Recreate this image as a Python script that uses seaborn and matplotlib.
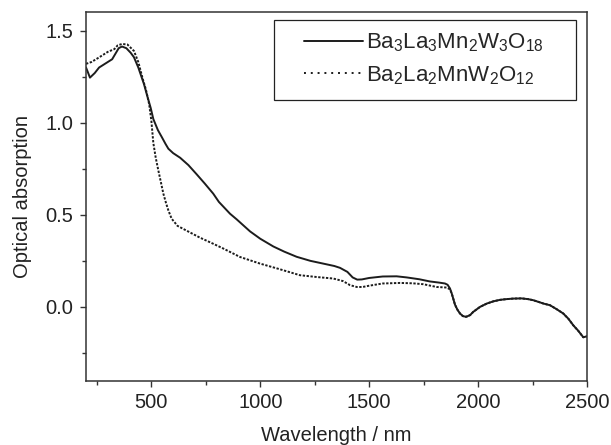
import numpy as np
import pandas as pd
import matplotlib
matplotlib.use("Agg")
import matplotlib.pyplot as plt
from matplotlib.patches import Rectangle
from matplotlib.ticker import MultipleLocator
import seaborn as sns

# Ba3La3Mn2W3O18 (solid)
wl_a = [200, 210, 218, 240, 260, 280, 300, 320, 335, 350, 365, 385, 405, 420,
        440, 466, 480, 497, 509, 530, 548, 565, 578, 600, 632, 670, 708, 745,
        784, 810, 830, 861, 892, 953, 1000, 1060, 1110, 1167, 1230, 1289, 1340,
        1366, 1400, 1424, 1445, 1466, 1500, 1562, 1626, 1672, 1730, 1779, 1820,
        1848, 1860, 1871, 1879, 1894, 1905, 1917, 1930, 1945, 1963, 1978, 2009,
        2040, 2070, 2100, 2130, 2162, 2200, 2230, 2254, 2280, 2300, 2330, 2360,
        2391, 2415, 2437, 2460, 2483, 2500]
abs_a = [1.30, 1.27, 1.245, 1.27, 1.30, 1.315, 1.33, 1.345, 1.375, 1.405, 1.414,
         1.405, 1.38, 1.356, 1.30, 1.21, 1.15, 1.08, 1.02, 0.96, 0.922, 0.885,
         0.859, 0.835, 0.81, 0.77, 0.72, 0.67, 0.615, 0.57, 0.545, 0.506, 0.475,
         0.41, 0.37, 0.328, 0.30, 0.272, 0.25, 0.235, 0.222, 0.212, 0.19, 0.16,
         0.148, 0.149, 0.157, 0.165, 0.166, 0.160, 0.150, 0.138, 0.132, 0.127,
         0.12, 0.10, 0.073, 0.012, -0.015, -0.036, -0.05, -0.054, -0.045, -0.027,
         0.0, 0.018, 0.03, 0.038, 0.042, 0.045, 0.046, 0.042, 0.036, 0.026, 0.018,
         0.009, -0.012, -0.036, -0.065, -0.10, -0.13, -0.165, -0.16]

# Ba2La2MnW2O12 (dotted)
wl_b = [200, 225, 260, 300, 330, 345, 365, 390, 420, 440, 460, 475, 490, 500,
        509, 520, 532, 545, 555, 567, 578, 593, 620, 660, 723, 780, 830, 907,
        999, 1091, 1182, 1260, 1335, 1380, 1412, 1443, 1470, 1500, 1562, 1642,
        1700, 1749, 1810, 1856, 1871, 1879, 1894, 1905, 1917, 1930, 1945, 1963,
        1978, 2009, 2040, 2070, 2100, 2130, 2162, 2200, 2230, 2254, 2280, 2300,
        2330, 2360, 2391, 2415, 2437, 2460, 2483, 2500]
abs_b = [1.32, 1.33, 1.355, 1.385, 1.40, 1.42, 1.428, 1.425, 1.39, 1.33, 1.24,
         1.18, 1.10, 1.01, 0.89, 0.81, 0.741, 0.67, 0.615, 0.565, 0.524, 0.479,
         0.44, 0.415, 0.376, 0.345, 0.317, 0.271, 0.235, 0.204, 0.172, 0.162,
         0.154, 0.14, 0.118, 0.108, 0.108, 0.115, 0.127, 0.130, 0.128, 0.123,
         0.108, 0.105, 0.095, 0.073, 0.012, -0.015, -0.036, -0.05, -0.054, -0.045,
         -0.027, 0.0, 0.018, 0.03, 0.038, 0.042, 0.045, 0.046, 0.042, 0.036, 0.026,
         0.018, 0.009, -0.012, -0.036, -0.065, -0.10, -0.13, -0.165, -0.16]

label_a = r"Ba$_{3}$La$_{3}$Mn$_{2}$W$_{3}$O$_{18}$"
label_b = r"Ba$_{2}$La$_{2}$MnW$_{2}$O$_{12}$"

sns.set_theme(style="ticks")
plt.rcParams["font.family"] = ["Liberation Sans", "DejaVu Sans"]
plt.rcParams["mathtext.fontset"] = "custom"
plt.rcParams["mathtext.rm"] = "Liberation Sans"
plt.rcParams["mathtext.default"] = "regular"

df_a = pd.DataFrame({"wl": wl_a, "abs": abs_a})
df_b = pd.DataFrame({"wl": wl_b, "abs": abs_b})

fig = plt.figure(figsize=(6.11, 4.45), dpi=100)
ax = fig.add_axes([0.1408, 0.1449, 0.8199, 0.8275])

line_col = "#1c1c1c"
sns.lineplot(data=df_a, x="wl", y="abs", ax=ax, color=line_col, lw=1.4,
             estimator=None, label=label_a)
sns.lineplot(data=df_b, x="wl", y="abs", ax=ax, color=line_col, lw=1.4,
             estimator=None, linestyle=(0, (1.2, 0.8)), label=label_b)

ax.set_xlim(200, 2500)
ax.set_ylim(-0.4, 1.6)
ax.xaxis.set_major_locator(MultipleLocator(500))
ax.xaxis.set_minor_locator(MultipleLocator(250))
ax.yaxis.set_major_locator(MultipleLocator(0.5))
ax.yaxis.set_minor_locator(MultipleLocator(0.25))
ax.set_xticks([500, 1000, 1500, 2000, 2500])
ax.set_yticks([0.0, 0.5, 1.0, 1.5])
ax.set_yticklabels(["0.0", "0.5", "1.0", "1.5"])

for s in ax.spines.values():
    s.set_visible(True)
    s.set_color("#333333")
    s.set_linewidth(1.1)

ax.tick_params(which="major", direction="out", length=4.5, width=1,
               color="#333333", labelsize=14.5, labelcolor="#222222", pad=4.5)
ax.tick_params(which="minor", direction="out", length=3, width=1, color="#333333")

ax.set_xlabel("Wavelength / nm", fontsize=14.5, color="#222222", labelpad=10)
ax.set_ylabel("Optical absorption", fontsize=14.5, color="#222222", labelpad=10)

# legend without its own frame; box drawn separately to get wider side margins
leg = ax.legend(loc="upper left", bbox_to_anchor=(0.435, 0.948),
                borderaxespad=0, borderpad=0, fontsize=16, handlelength=2.65,
                handletextpad=0.15, labelspacing=0.45, frameon=False)
leg.get_lines()[1].set_linestyle((0, (1, 2.5)))
ax.add_patch(Rectangle((0.375, 0.762), 0.603, 0.217, transform=ax.transAxes,
                       fill=False, edgecolor="#222222", lw=0.9, zorder=5))

fig.savefig("out.png", dpi=100)
